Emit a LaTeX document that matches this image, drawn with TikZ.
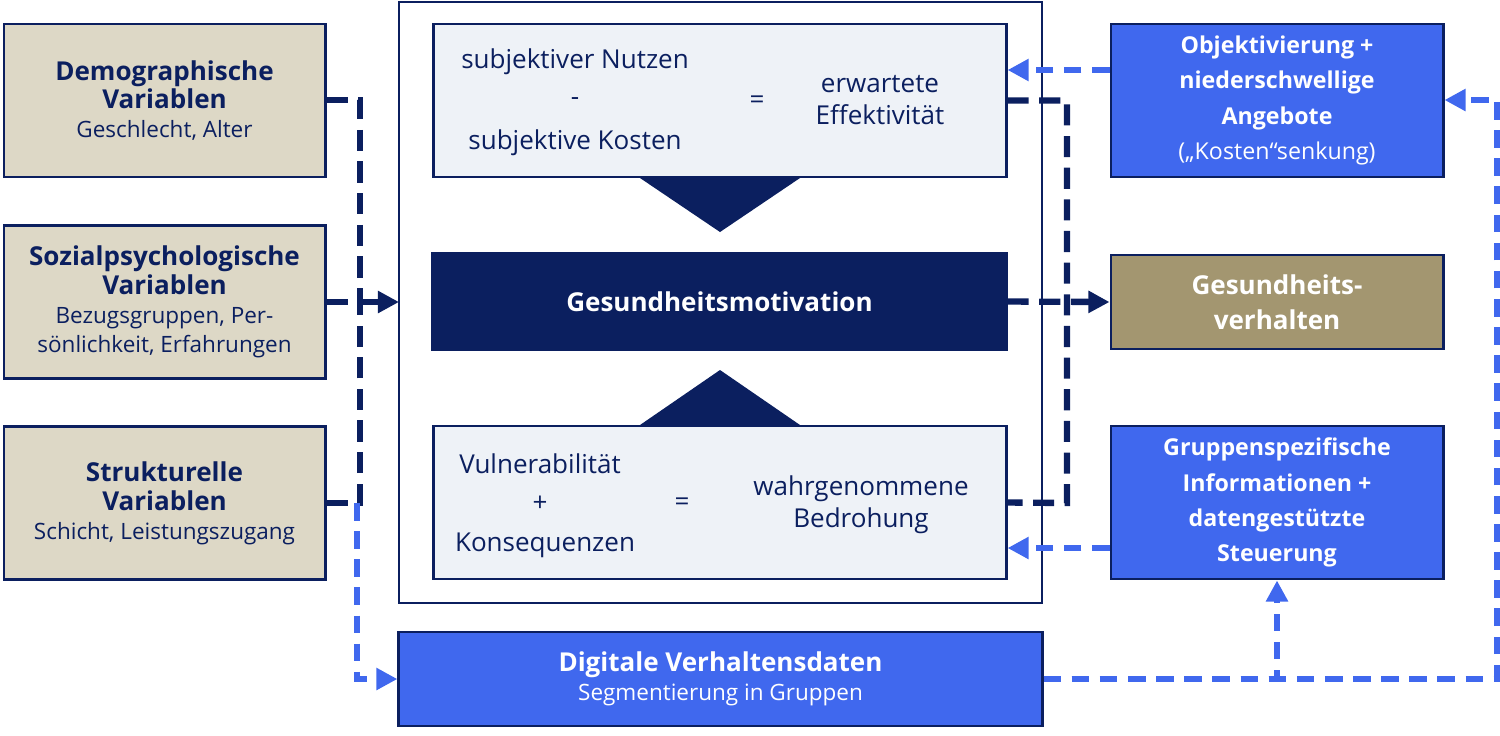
\documentclass[tikz,border=0pt]{standalone}
\usepackage{fontspec}
\setmainfont{Open Sans}
\usetikzlibrary{arrows.meta, positioning}
\definecolor{navy}{HTML}{0B1F5F}
\definecolor{beige}{HTML}{DDD8C6}
\definecolor{royal}{HTML}{4068EE}
\definecolor{olive}{HTML}{A39670}
\definecolor{pale}{HTML}{EEF2F7}
\newcommand{\hd}{\fontsize{7.4}{10}\selectfont\bfseries}
\newcommand{\sm}{\fontsize{6.4}{8.6}\selectfont\mdseries}
\tikzset{%
	box/.style={draw=navy, line width=0.8pt, align=center, inner sep=0pt},
	leftbox/.style={box, fill=beige, text=navy, minimum width=3.21cm, minimum height=1.53cm},
	rightbox/.style={box, fill=royal, text=white, minimum width=3.32cm, minimum height=1.53cm},
	innerbox/.style={box, fill=pale, minimum width=5.72cm, minimum height=1.53cm},
	navyline/.style={navy, line width=1.8pt, dash pattern=on 6pt off 3pt},
	blueline/.style={royal, line width=1.5pt, dash pattern=on 5pt off 3pt},
	tip/.style={-{Triangle[length=6pt,width=6pt]}},
}
\begin{document}
\begin{tikzpicture}[x=0.01cm, y=-0.01cm, font=\fontsize{6.4}{8.2}\selectfont]
	\useasboundingbox (0,0) rectangle (1500,735);
	% left column
	\node[leftbox] (demo) at (164.5,100.5) {\hd Demographische\\\hd Variablen\\\sm Geschlecht, Alter};
	\node[leftbox] (sozial) at (164.5,302) {\hd Sozialpsychologische\\\hd Variablen\\\sm Bezugsgruppen, Per-\\\sm sönlichkeit, Erfahrungen};
	\node[leftbox] (struk) at (164.5,503) {\hd Strukturelle\\\hd Variablen\\\sm Schicht, Leistungszugang};
	% central frame
	\draw[navy, line width=0.8pt] (399,2) rectangle (1042,603);
	\node[innerbox] (nutzen) at (720,100.5) {};
	\node[innerbox] (bedroh) at (720,502.5) {};
	\node[box, fill=navy, text=white, minimum width=5.73cm, minimum height=0.97cm, font=\hd] (motiv) at (719.5,301.5) {Gesundheitsmotivation};
	\fill[navy] (640,178) -- (800,178) -- (720,232) -- cycle;
	\fill[navy] (640,425) -- (800,425) -- (720,370) -- cycle;
	\begin{scope}[font=\fontsize{7.4}{9}\selectfont, text=navy]
		\node at (575,62) {subjektiver Nutzen};
		\node at (575,102) {-};
		\node at (575,143) {subjektive Kosten};
		\node at (757,102) {=};
		\node[align=center] at (880,100) {erwartete\\Effektivität};
		\node at (540,464) {Vulnerabilität};
		\node at (540,504) {+};
		\node at (545,545) {Konsequenzen};
		\node at (682,504) {=};
		\node[align=center] at (861,505) {wahrgenommene\\Bedrohung};
	\end{scope}
	% right column
	\node[rightbox, font=\fontsize{6.6}{10}\selectfont\bfseries] (objekt) at (1277,100.5) {Objektivierung +\\niederschwellige\\Angebote\\\mdseries („Kosten“senkung)};
	\node[box, fill=olive, text=white, minimum width=3.32cm, minimum height=0.94cm, font=\hd] (verhalten) at (1277,302) {Gesundheits-\\verhalten};
	\node[rightbox, font=\fontsize{6.6}{10}\selectfont\bfseries] (gruppen) at (1277,502.5) {Gruppenspezifische\\Informationen +\\datengestützte\\Steuerung};
	\node[box, fill=royal, text=white, minimum width=6.43cm, minimum height=0.94cm] (digital) at (720.5,679) {\hd Digitale Verhaltensdaten\\\sm Segmentierung in Gruppen};
	% navy connectors
	\coordinate (jl) at (360,302);
	\draw[navyline] (demo.east |- 0,100) -| (jl);
	\draw[navyline] (struk.east) -| (jl);
	\draw[navyline, tip] (sozial.east) -- (399,302);
	\draw[navyline] (nutzen.east) -| (1067,503) -- (bedroh.east);
	\draw[navyline, tip] (motiv.east) -- (verhalten.west);
	% blue connectors
	\draw[blueline, tip] (objekt.west |- 0,70) -- (nutzen.east |- 0,70);
	\draw[blueline, tip] (gruppen.west |- 0,548) -- (bedroh.east |- 0,548);
	\draw[blueline, tip] (357,503) |- (digital.west);
	\draw[blueline, tip] (digital.east) -| (gruppen.south);
	\draw[blueline, tip] (digital.east) -| (1497,100) -- (objekt.east |- 0,100);
\end{tikzpicture}
\end{document}
